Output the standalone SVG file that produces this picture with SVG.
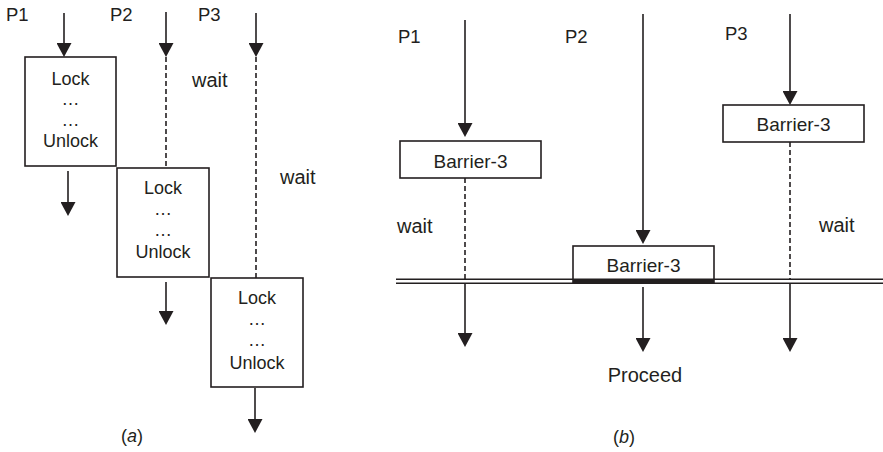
<svg xmlns="http://www.w3.org/2000/svg" width="883" height="452" viewBox="0 0 883 452">
<style>
text{font-family:"Liberation Sans",Arial,sans-serif;fill:#231f20}
.a{font-size:18px}
.p{font-size:18.5px}
.w{font-size:20px}
.b{font-size:19px}
.c{text-anchor:middle}
.box{fill:#fff;stroke:#231f20;stroke-width:1.6}
.ln{stroke:#231f20;stroke-width:1.6;fill:none}
.ar{marker-end:url(#ah)}
.ds{stroke-dasharray:5 3}
</style>
<defs>
<marker id="ah" viewBox="0 0 14 15" markerWidth="14" markerHeight="15" refX="11" refY="7.5" orient="auto" markerUnits="userSpaceOnUse">
<path d="M0,0 L14,7.5 L0,15 z" fill="#231f20"/>
</marker>
</defs>
<g id="connectors">
<line class="ln ar" x1="64" y1="13" x2="64" y2="54"/>
<line class="ln ar" x1="166" y1="12" x2="166" y2="54"/>
<line class="ln ds" x1="166" y1="57" x2="166" y2="168"/>
<line class="ln ar" x1="256" y1="13" x2="256" y2="54"/>
<line class="ln ds" x1="256" y1="57" x2="256" y2="278"/>
<line class="ln ar" x1="68" y1="171" x2="68" y2="213"/>
<line class="ln ar" x1="166" y1="282" x2="166" y2="322"/>
<line class="ln ar" x1="255" y1="388" x2="255" y2="430"/>
<line class="ln ar" x1="465" y1="20" x2="465" y2="134"/>
<line class="ln ds" x1="465" y1="178" x2="465" y2="279"/>
<line class="ln ar" x1="465" y1="283" x2="465" y2="344"/>
<line class="ln ar" x1="643" y1="14" x2="643" y2="241"/>
<line class="ln ar" x1="643" y1="287" x2="643" y2="349"/>
<line class="ln ar" x1="790" y1="14" x2="790" y2="102"/>
<line class="ln ds" x1="790" y1="142" x2="790" y2="279"/>
<line class="ln ar" x1="790" y1="283" x2="790" y2="349"/>
</g>
<g id="barrier-line">
<line class="ln" x1="396" y1="279.3" x2="883" y2="279.3" stroke-width="1.4"/>
<line class="ln" x1="396" y1="283.3" x2="883" y2="283.3" stroke-width="1.4"/>
</g>
<g id="labels-a">
<text class="p" x="6" y="21">P1</text>
<text class="p" x="110" y="21">P2</text>
<text class="p" x="198" y="21">P3</text>
<text class="w" x="192" y="87">wait</text>
<text class="w" x="280" y="184">wait</text>
<text class="a" x="121" y="442">(<tspan font-style="italic">a</tspan>)</text>
</g>
<g id="a-box1">
<rect class="box" x="25" y="57" width="91" height="109"/>
<text class="a c" x="70.5" y="85">Lock</text>
<text class="a c" x="70.5" y="105">…</text>
<text class="a c" x="70.5" y="126">…</text>
<text class="a c" x="70.5" y="146.5">Unlock</text>
</g>
<g id="a-box2">
<rect class="box" x="117" y="168" width="92" height="109"/>
<text class="a c" x="163" y="193.5">Lock</text>
<text class="a c" x="163" y="214.5">…</text>
<text class="a c" x="163" y="236">…</text>
<text class="a c" x="163" y="258">Unlock</text>
</g>
<g id="a-box3">
<rect class="box" x="211" y="278" width="92" height="109"/>
<text class="a c" x="257" y="303.5">Lock</text>
<text class="a c" x="257" y="324.5">…</text>
<text class="a c" x="257" y="346">…</text>
<text class="a c" x="257" y="369">Unlock</text>
</g>
<g id="labels-b">
<text class="p" x="398" y="43">P1</text>
<text class="p" x="565" y="43">P2</text>
<text class="p" x="725" y="40">P3</text>
<text class="w" x="397" y="233">wait</text>
<text class="w" x="819" y="232">wait</text>
<text class="w c" x="645" y="382">Proceed</text>
<text class="a" x="613" y="443">(<tspan font-style="italic">b</tspan>)</text>
</g>
<g id="b-box1">
<rect class="box" x="400" y="141" width="141" height="37"/>
<text class="b c" x="470.5" y="168">Barrier-3</text>
</g>
<g id="b-box2">
<rect class="box" x="573" y="246" width="141" height="37"/>
<rect x="573" y="278.5" width="141" height="5.5" fill="#231f20"/>
<text class="b c" x="643.5" y="272">Barrier-3</text>
</g>
<g id="b-box3">
<rect class="box" x="723" y="105" width="141" height="37"/>
<text class="b c" x="793.5" y="131">Barrier-3</text>
</g>
</svg>
